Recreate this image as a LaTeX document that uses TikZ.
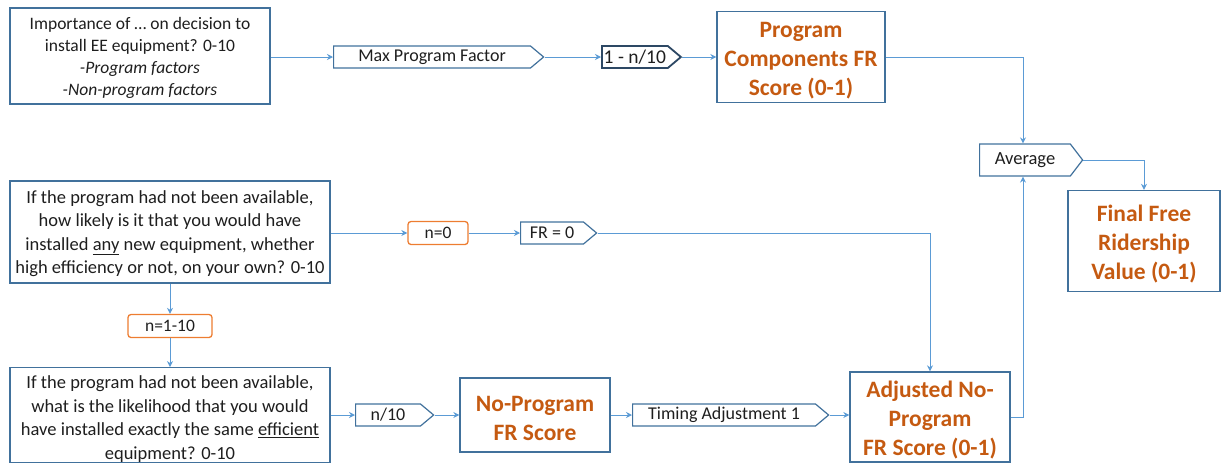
\documentclass[tikz,border=0pt]{standalone}
\usepackage{fontspec}
\setmainfont{Carlito}
\usetikzlibrary{shapes.symbols,arrows.meta}
\definecolor{boxblue}{RGB}{65,113,156}
\definecolor{darkblue}{RGB}{45,72,100}
\definecolor{lineblue}{RGB}{91,155,213}
\definecolor{orbr}{RGB}{197,90,17}
\definecolor{orln}{RGB}{237,125,49}
\definecolor{txt}{RGB}{30,30,30}
\newcommand\tgap[1]{\rule{0pt}{#1}}
\begin{document}
\begin{tikzpicture}[x=1pt,y=-1pt,
 box/.style={draw=boxblue, line width=1.3pt, align=center, inner sep=0pt, text=txt, font=\fontsize{18.5}{23.5}\selectfont},
 res/.style={draw=boxblue, line width=1.3pt, align=center, inner sep=0pt, text=orbr, font=\fontsize{23.5}{29}\selectfont\bfseries},
 tagbox/.style={signal, signal to=east, signal pointer angle=80, draw=boxblue, line width=1.2pt, inner sep=0pt, minimum height=22pt, text=txt, font=\fontsize{18}{21}\selectfont},
 obox/.style={draw=orln, line width=1.3pt, rounded corners=3pt, minimum height=23pt, inner sep=0pt, text=txt, font=\fontsize{17.5}{21}\selectfont},
 conn/.style={draw=lineblue, line width=1pt, -{Stealth[length=6pt,width=6pt]}},
]
\useasboundingbox (0,0) rectangle (1222,464);
% top row
\node[box, minimum width=260pt, minimum height=96pt, font=\fontsize{17.5}{22}\selectfont] (imp) at (140,56) {\tgap{16.5pt}Importance of … on decision to\\install EE equipment? 0-10\\\textit{-Program factors}\\\textit{-Non-program factors}};
\node[tagbox, minimum width=210pt, anchor=west] (mpf) at (333,57) {Max Program Factor};
\node[tagbox, minimum width=79pt, anchor=west, draw=darkblue, line width=1.8pt, font=\fontsize{19.5}{22}\selectfont] (onem) at (601,57) {1 - n/10};
\node[res, minimum width=168pt, minimum height=91pt] (pc) at (801,57) {\tgap{23pt}Program\\Components FR\\Score (0-1)};
% right column
\node[tagbox, minimum width=103pt, minimum height=32pt, signal pointer angle=105, anchor=west, font=\fontsize{18.5}{21}\selectfont] (avg) at (979,160) {Average};
\node[res, minimum width=152pt, minimum height=101pt] (fin) at (1144,241) {\tgap{23pt}Final Free\\Ridership\\Value (0-1)};
\coordinate (jx) at (1023,0);
% middle row
\node[box, minimum width=320pt, minimum height=102pt] (q1) at (170,232) {\tgap{16pt}If the program had not been available,\\how likely is it that you would have\\installed \underline{any} new equipment, whether\\high efficiency or not, on your own? 0-10};
\node[obox, minimum width=60pt] (n0) at (438,233) {n=0};
\node[tagbox, minimum width=76pt, anchor=west] (fr0) at (520,233) {FR = 0};
\node[obox, minimum width=84pt] (n110) at (170,326) {n=1-10};
% bottom row
\node[box, minimum width=320pt, minimum height=92pt] (q2) at (170,415) {\tgap{21pt}If the program had not been available,\\what is the likelihood that you would\\have installed exactly the same \underline{efficient}\\equipment? 0-10};
\node[tagbox, minimum width=78pt, anchor=west] (n10) at (355,415) {n/10};
\node[res, minimum width=150pt, minimum height=74pt] (np) at (535,415) {\tgap{22pt}No-Program\\FR Score};
\node[tagbox, minimum width=196pt, anchor=west] (ta) at (632,415) {Timing Adjustment 1};
\node[res, minimum width=160pt, minimum height=90pt] (adj) at (930,417) {\tgap{22pt}Adjusted No-\\Program\\FR Score (0-1)};
% connectors
\draw[conn] (imp.east |- mpf.west) -- (mpf.west);
\draw[conn] (mpf.east) -- (onem.west);
\draw[conn] (onem.east) -- (onem.east -| pc.west);
\draw[conn] (pc.east) -| (jx |- avg.north);
\draw[conn] (avg.east) -| (fin.north);
\draw[conn] (adj.east) -| (jx |- avg.south);
\draw[conn] (q1.east |- n0.west) -- (n0.west);
\draw[conn] (n0.east) -- (fr0.west);
\draw[conn] (fr0.east) -| (adj.north);
\draw[conn] (q1.south) -- (n110.north);
\draw[conn] (n110.south) -- (q2.north);
\draw[conn] (q2.east) -- (n10.west);
\draw[conn] (n10.east) -- (n10.east -| np.west);
\draw[conn] (np.east |- ta.west) -- (ta.west);
\draw[conn] (ta.east) -- (ta.east -| adj.west);
\end{tikzpicture}
\end{document}
